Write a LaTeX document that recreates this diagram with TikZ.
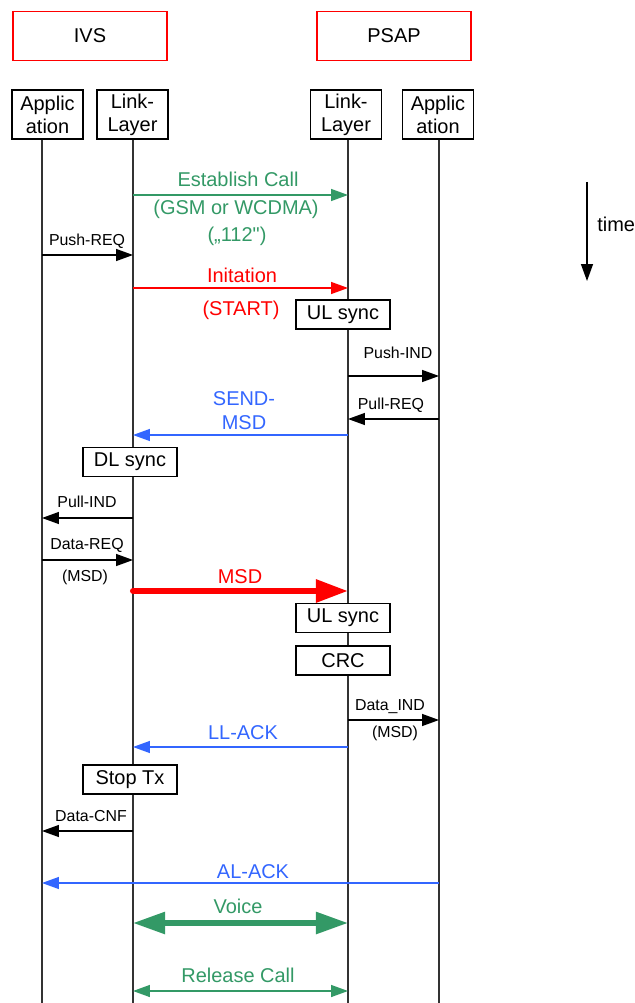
\documentclass[tikz,border=0pt]{standalone}
\usepackage{fontspec}
\setmainfont{Liberation Sans}
\newfontfamily\plainquote{Liberation Sans}
\usetikzlibrary{arrows.meta}

\definecolor{callgreen}{RGB}{51,153,102}
\definecolor{ackblue}{RGB}{51,102,255}
\newcommand{\bigtxt}{\fontsize{14.2}{16.4}\selectfont}
\newcommand{\smalltxt}{\fontsize{11.3}{13}\selectfont}

\tikzset{
  sidebox/.style={draw=red, line width=0.9pt, minimum width=3.85cm, minimum height=1.225cm, font=\bigtxt},
  layerbox/.style={draw, line width=0.9pt, minimum width=1.775cm, minimum height=1.225cm, inner sep=0pt, align=center, font=\bigtxt},
  syncbox/.style={draw, fill=white, line width=0.9pt, minimum width=2.35cm, minimum height=0.725cm, inner sep=0pt, font=\bigtxt},
  lifeline/.style={draw=black!80, line width=1.1pt},
  msg/.style={->, line width=0.9pt},
  lbl/.style={anchor=base, inner sep=0pt, font=\bigtxt},
  slbl/.style={anchor=base, inner sep=0pt, font=\smalltxt},
}

\begin{document}
\begin{tikzpicture}[x=0.025cm, y=-0.025cm, >={Triangle[length=12pt,width=8.5pt]}]
    \useasboundingbox (0,0) rectangle (634,1003);

    % Two sides
    \node[sidebox] (ivs) at (90,36) {IVS};
    \node[sidebox] (psap) at (394,36) {PSAP};

    % Layers of each side
    \node[layerbox] (ivsApp) at (47.5,114.5) {Applic\\ation};
    \node[layerbox] (ivsLink) at (132.5,114.5) {Link-\\Layer};
    \node[layerbox] (psapLink) at (346,114.5) {Link-\\Layer};
    \node[layerbox] (psapApp) at (438,114.5) {Applic\\ation};

    % Lifelines
    \coordinate (ivsAppEnd) at (42,1003);
    \coordinate (ivsLinkEnd) at (133,1003);
    \coordinate (psapLinkEnd) at (348,1003);
    \coordinate (psapAppEnd) at (439,1003);
    \draw[lifeline] (ivsApp.south -| ivsAppEnd) -- (ivsAppEnd);
    \draw[lifeline] (ivsLink.south -| ivsLinkEnd) -- (ivsLinkEnd);
    \draw[lifeline] (psapLink.south -| psapLinkEnd) -- (psapLinkEnd);
    \draw[lifeline] (psapApp.south -| psapAppEnd) -- (psapAppEnd);

    % Call set-up
    \draw[msg,callgreen] (ivsLinkEnd |- 0,195) -- (psapLinkEnd |- 0,195);
    \node[lbl,callgreen] (estCall) at (238,187) {Establish Call};
    \node[lbl,callgreen] (estNet) at (236,215) {(GSM or WCDMA)};
    \node[lbl,callgreen] (estNum) at (237,242) {(„112{\plainquote"})};

    \draw[msg] (ivsAppEnd |- 0,255) -- (ivsLinkEnd |- 0,255);
    \node[slbl] (pushReq) at (87,246) {Push-REQ};

    \draw[msg,red] (ivsLinkEnd |- 0,288) -- (psapLinkEnd |- 0,288);
    \node[lbl,red] (init) at (242,283) {Initation};
    \node[lbl,red] (start) at (241,316) {(START)};

    \draw[msg] (psapLinkEnd |- 0,376) -- (psapAppEnd |- 0,376);
    \node[slbl] (pushInd) at (398,359) {Push-IND};

    \draw[msg] (psapAppEnd |- 0,419) -- (psapLinkEnd |- 0,419);
    \node[slbl] (pullReq) at (391,409) {Pull-REQ};

    \draw[msg,ackblue] (psapLinkEnd |- 0,435) -- (ivsLinkEnd |- 0,435);
    \node[lbl,ackblue] (sendA) at (244,405) {SEND-};
    \node[lbl,ackblue] (sendB) at (244,429) {MSD};

    % MSD transfer
    \draw[msg] (ivsLinkEnd |- 0,518) -- (ivsAppEnd |- 0,518);
    \node[slbl] (pullInd) at (87,507) {Pull-IND};

    \draw[msg] (ivsAppEnd |- 0,560) -- (ivsLinkEnd |- 0,560);
    \node[slbl] (dataReq) at (87,549) {Data-REQ};
    \node[slbl] (dataReqMsd) at (85,581) {(MSD)};

    \draw[red, line width=4.3pt, line cap=round, -{Triangle[length=22.8pt,width=15.6pt]}]
        (ivsLinkEnd |- 0,591) -- (psapLinkEnd |- 0,591);
    \node[lbl,red] (msd) at (240,583) {MSD};

    \draw[msg] (psapLinkEnd |- 0,720) -- (psapAppEnd |- 0,720);
    \node[slbl] (dataInd) at (390,710) {Data\_IND};
    \node[slbl] (dataIndMsd) at (395,737) {(MSD)};

    \draw[msg,ackblue] (psapLinkEnd |- 0,747) -- (ivsLinkEnd |- 0,747);
    \node[lbl,ackblue] (llAck) at (243,739) {LL-ACK};

    \draw[msg] (ivsLinkEnd |- 0,831) -- (ivsAppEnd |- 0,831);
    \node[slbl] (dataCnf) at (91,821) {Data-CNF};

    \draw[msg,ackblue] (psapAppEnd |- 0,883) -- (ivsAppEnd |- 0,883);
    \node[lbl,ackblue] (alAck) at (253,878) {AL-ACK};

    % Voice and release
    \draw[callgreen, line width=3.8pt, {Triangle[length=22.8pt,width=15pt]}-{Triangle[length=22.8pt,width=15pt]}]
        (ivsLinkEnd |- 0,923) -- (psapLinkEnd |- 0,923);
    \node[lbl,callgreen] (voice) at (238,913) {Voice};

    \draw[msg,callgreen,<->] (ivsLinkEnd |- 0,991) -- (psapLinkEnd |- 0,991);
    \node[lbl,callgreen] (release) at (238,982) {Release Call};

    % Sync and check boxes
    \node[syncbox] (ulSyncA) at (343,314.5) {UL sync};
    \node[syncbox] (dlSync) at (130,462) {DL sync};
    \node[syncbox] (ulSyncB) at (343,618) {UL sync};
    \node[syncbox] (crc) at (343,660.5) {CRC};
    \node[syncbox] (stopTx) at (130,779.5) {Stop Tx};

    % Time axis
    \coordinate (timeTop) at (587,182);
    \coordinate (timeBot) at (587,281);
    \draw[msg] (timeTop) -- (timeBot);
    \node[lbl,anchor=base west] (time) at (597,232) {time};
\end{tikzpicture}
\end{document}
